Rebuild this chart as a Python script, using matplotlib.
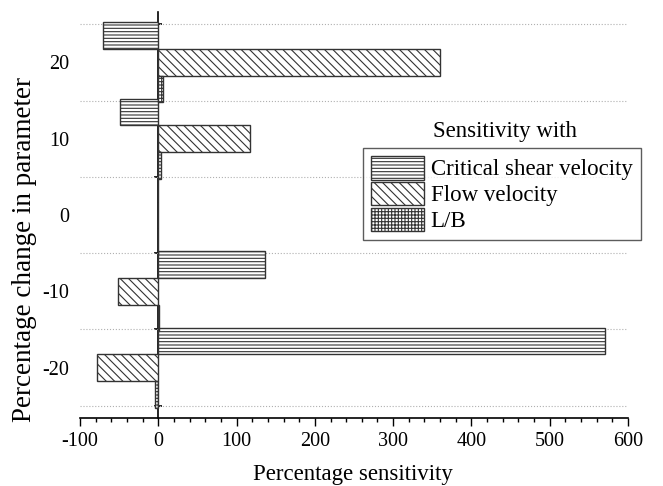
import numpy as np
import matplotlib
matplotlib.use('Agg')
import matplotlib.pyplot as plt
from matplotlib.patches import Patch

plt.rcParams['font.family'] = ['Liberation Serif', 'DejaVu Serif']
plt.rcParams['hatch.linewidth'] = 0.8
plt.rcParams['axes.unicode_minus'] = False

# data
categories = ['-20', '-10', '0', '10', '20']
critical_shear = [571, 136, 0, -49, -71]
flow_velocity = [-78, -52, 0, 117, 360]
lb_ratio = [-4, 0.5, 0, 3, 6]

series_names = ['Critical shear velocity', 'Flow velocity', 'L/B']
hatches = ['-----', '\\\\\\\\', '+++++']

fig = plt.figure(figsize=(6.63, 4.86), dpi=100)
ax = fig.add_axes([80 / 663, 1 - 418 / 486, 548 / 663, 406 / 486])

y = np.arange(len(categories))
h = 0.35
offsets = [h, 0, -h]
for vals, off, hat in zip([critical_shear, flow_velocity, lb_ratio], offsets, hatches):
    ax.barh(y + off, vals, height=h, color='white', edgecolor='#333333',
            hatch=hat, linewidth=1.0, zorder=3)

ax.set_xlim(-100, 600)
ax.set_ylim(-0.66, len(categories) - 1 + 0.66)

# x axis
ax.set_xticks(np.arange(-100, 601, 100))
ax.set_xticks(np.arange(-100, 601, 20), minor=True)
ax.tick_params(axis='x', which='major', direction='out', length=6, width=1, labelsize=14.5, pad=4)
ax.tick_params(axis='x', which='minor', direction='out', length=3, width=1)

# y axis: labels at category centres, gridlines at group boundaries
ax.set_yticks(y)
ax.set_yticklabels(categories)
ax.set_yticks(np.arange(-0.5, len(categories)), minor=True)
ax.tick_params(axis='y', which='major', length=0, labelsize=14.5, pad=8)
ax.tick_params(axis='y', which='minor', length=0)
ax.yaxis.grid(True, which='minor', linestyle=':', color='#b0b0b0', linewidth=0.8)

for s in ['left', 'right', 'top']:
    ax.spines[s].set_visible(False)
ax.spines['bottom'].set_linewidth(1.2)

# vertical axis line at x = 0 with small ticks
sec = ax.secondary_yaxis(100 / 700)
sec.set_yticks(np.arange(-0.5, len(categories)))
sec.set_yticklabels([])
sec.tick_params(axis='y', direction='inout', length=6, width=1.2)
sec.spines['left'].set_linewidth(1.2)

fig.text(353 / 663, 1 - 474 / 486, 'Percentage sensitivity', ha='center', va='center', fontsize=16.5)
fig.text(25 / 663, 1 - 250 / 486, 'Percentage change in parameter', ha='center', va='center',
         rotation=90, fontsize=19.5)

handles = [Patch(facecolor='white', edgecolor='#333333', hatch=hh) for hh in hatches]
leg = ax.legend(handles, series_names, loc='upper left',
                bbox_to_anchor=(363 / 663, 1 - 148 / 486), bbox_transform=fig.transFigure,
                fontsize=16.5, frameon=True, fancybox=False, handlelength=2.3, handleheight=1.2,
                handletextpad=0.3, labelspacing=0.06, borderpad=0.35, borderaxespad=0)
leg.get_frame().set_edgecolor('#333333')
leg.get_frame().set_linewidth(1.0)
fig.text(505 / 663, 1 - 131 / 486, 'Sensitivity with', ha='center', va='center', fontsize=16.5)

fig.savefig('out.png', dpi=100)
